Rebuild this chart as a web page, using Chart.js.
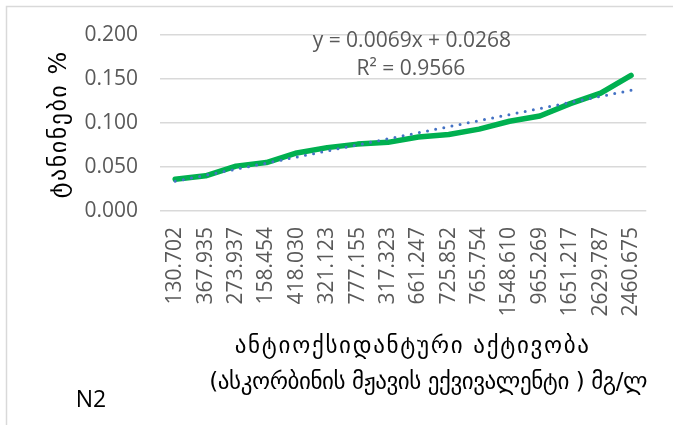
<!DOCTYPE html>
<html>
<head>
<meta charset="utf-8">
<script src="https://cdn.jsdelivr.net/npm/chart.js@4/dist/chart.umd.min.js"></script>
<style>
  html, body { margin: 0; padding: 0; background: #ffffff; }
  #wrap { width: 673px; height: 425px; position: relative; }
</style>
</head>
<body>
<div id="wrap"><canvas id="chart" width="673" height="425"></canvas></div>
<script>
// Antioxidant activity (ascorbic acid equivalent, mg/l) per sample
const categories = [
  '130.702', '367.935', '273.937', '158.454', '418.030', '321.123', '777.155', '317.323',
  '661.247', '725.852', '765.754', '1548.610', '965.269', '1651.217', '2629.787', '2460.675'
];

// Tannin content, %
const tanninValues = [
  0.036, 0.040, 0.051, 0.055, 0.066, 0.072, 0.076, 0.078,
  0.084, 0.087, 0.093, 0.102, 0.108, 0.122, 0.134, 0.154
];

// Linear trendline: y = slope * x + intercept (x = 1..n)
const trendSlope = 0.0069;
const trendIntercept = 0.0268;
const rSquared = 0.9566;

const yTickValues = [0, 0.05, 0.1, 0.15, 0.2];

const yTitle = 'ტანინები %';
const xTitleLines = [
  'ანტიოქსიდანტური აქტივობა',
  '(ასკორბინის მჟავის ექვივალენტი ) მგ/ლ'
];
const panelLabel = 'N2';

const trendValues = categories.map((_, i) => trendSlope * (i + 1) + trendIntercept);

const tickGray = '#595959';
const gridGray = '#d9d9d9';
const numFont = "'Open Sans', 'Liberation Sans', sans-serif";
const geoFont = "'DejaVu Sans', 'Noto Sans', sans-serif";

// Draws centred text, spreading its letters so that it spans the given width
function fitText(ctx, text, x, y, width) {
  ctx.letterSpacing = '0px';
  const natural = ctx.measureText(text).width;
  const spacing = (width - natural) / text.length;
  ctx.letterSpacing = spacing.toFixed(2) + 'px';
  ctx.fillText(text, x + spacing / 2, y);
  ctx.letterSpacing = '0px';
}

// Frame, axis titles, trendline equation and panel label
const annotations = {
  id: 'annotations',
  beforeDraw(chart) {
    const ctx = chart.ctx;
    ctx.save();
    ctx.fillStyle = '#ffffff';
    ctx.fillRect(0, 0, chart.width, chart.height);
    ctx.strokeStyle = gridGray;
    ctx.lineWidth = 1.5;
    ctx.beginPath();
    ctx.moveTo(6.5, chart.height);
    ctx.lineTo(6.5, 6.5);
    ctx.lineTo(chart.width, 6.5);
    ctx.stroke();
    ctx.restore();
  },
  afterDraw(chart) {
    const ctx = chart.ctx;
    const a = chart.chartArea;
    const w = a.right - a.left;
    ctx.save();
    ctx.textAlign = 'center';
    ctx.textBaseline = 'middle';

    // Trendline equation
    ctx.fillStyle = tickGray;
    ctx.font = `21px ${numFont}`;
    const eq = `y = ${trendSlope.toFixed(4)}x + ${trendIntercept.toFixed(4)}`;
    ctx.fillText(eq, a.left + w * 0.518, a.top + 6);
    ctx.fillText(`R² = ${rSquared.toFixed(4)}`, a.left + w * 0.516, a.top + 34);

    // Y axis title
    ctx.fillStyle = '#000000';
    ctx.font = `24px ${geoFont}`;
    ctx.save();
    ctx.translate(60, (a.top + a.bottom) / 2 + 2);
    ctx.rotate(-Math.PI / 2);
    fitText(ctx, yTitle, 0, 0, 148);
    ctx.restore();

    // X axis title
    ctx.font = `23px ${geoFont}`;
    fitText(ctx, xTitleLines[0], a.left + w * 0.518, 347, 356);
    fitText(ctx, xTitleLines[1], a.left + w * 0.552, 383, 438);

    // Panel label
    ctx.font = `23px ${numFont}`;
    ctx.fillText(panelLabel, 91, 400);
    ctx.restore();
  }
};

new Chart(document.getElementById('chart'), {
  type: 'line',
  data: {
    labels: categories,
    datasets: [
      {
        label: 'Linear',
        data: trendValues,
        borderColor: '#4472C4',
        borderWidth: 3,
        borderDash: [0, 8.3],
        borderCapStyle: 'round',
        pointRadius: 0,
        fill: false,
        tension: 0,
        order: 0
      },
      {
        label: 'ტანინები %',
        data: tanninValues,
        borderColor: '#00B050',
        borderWidth: 5.5,
        borderCapStyle: 'round',
        borderJoinStyle: 'round',
        pointRadius: 0,
        fill: false,
        tension: 0,
        order: 1
      }
    ]
  },
  options: {
    responsive: false,
    animation: false,
    devicePixelRatio: 1,
    layout: { padding: { top: 35, right: 23, left: 0, bottom: 0 } },
    plugins: {
      legend: { display: false },
      tooltip: { enabled: false }
    },
    scales: {
      x: {
        type: 'category',
        offset: true,
        grid: { display: false, drawTicks: false },
        border: { display: false },
        ticks: {
          autoSkip: false,
          minRotation: 90,
          maxRotation: 90,
          padding: 16,
          color: tickGray,
          font: { family: numFont, size: 21 }
        },
        afterFit(scale) { scale.height = 214; }
      },
      y: {
        min: 0,
        max: 0.2,
        afterBuildTicks(scale) { scale.ticks = yTickValues.map(v => ({ value: v })); },
        ticks: {
          padding: 22,
          color: tickGray,
          font: { family: numFont, size: 21 },
          callback: v => Number(v).toFixed(3)
        },
        grid: { color: gridGray, lineWidth: 1.5, drawTicks: false },
        border: { display: false },
        afterFit(scale) { scale.width = 160; }
      }
    }
  },
  plugins: [annotations]
});
</script>
</body>
</html>
